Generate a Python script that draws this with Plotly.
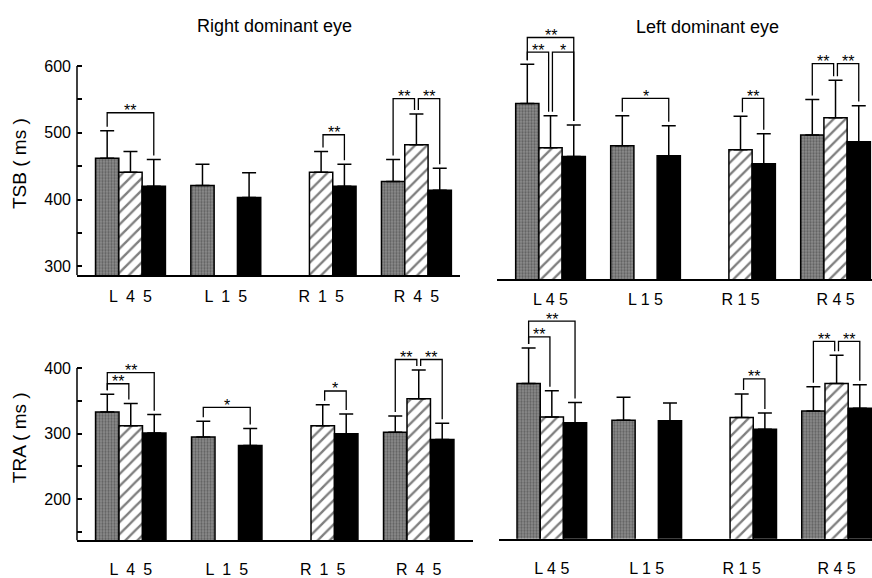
import plotly.graph_objects as go

categories = ["L 4 5", "L 1 5", "R 1 5", "R 4 5"]

# ---- TSB, right dominant eye ----
tsb_r_stip = [462, 421, None, 427]
tsb_r_stip_sd = [41, 32, None, 33]
tsb_r_hatch = [441, None, 441, 482]
tsb_r_hatch_sd = [31, None, 31, 46]
tsb_r_black = [420, 403, 420, 414]
tsb_r_black_sd = [40, 37, 33, 33]

# ---- TSB, left dominant eye ----
tsb_l_stip = [549, 486, None, 502]
tsb_l_stip_sd = [59, 45, None, 53]
tsb_l_hatch = [483, None, 480, 528]
tsb_l_hatch_sd = [48, None, 50, 56]
tsb_l_black = [470, 471, 459, 492]
tsb_l_black_sd = [47, 45, 45, 54]

# ---- TRA, right dominant eye ----
tra_r_stip = [333, 295, None, 302]
tra_r_stip_sd = [27, 24, None, 25]
tra_r_hatch = [312, None, 312, 353]
tra_r_hatch_sd = [34, None, 32, 44]
tra_r_black = [301, 282, 300, 291]
tra_r_black_sd = [28, 26, 30, 25]

# ---- TRA, left dominant eye ----
tra_l_stip = [374, 318, None, 332]
tra_l_stip_sd = [54, 35, None, 37]
tra_l_hatch = [323, None, 322, 374]
tra_l_hatch_sd = [40, None, 36, 43]
tra_l_black = [314, 317, 304, 336]
tra_l_black_sd = [31, 27, 25, 36]

# significance brackets: (category index, bar a, bar b, level, label)
sig_tsb_r = [(0, 0, 2, 530, "**"), (2, 1, 2, 497, "**"), (3, 0, 1, 551, "**"), (3, 1, 2, 551, "**")]
sig_tsb_l = [(0, 0, 2, 648, "**"), (0, 0, 1, 626, "**"), (0, 1, 2, 626, "*"), (1, 0, 2, 557, "*"),
             (2, 1, 2, 557, "**"), (3, 0, 1, 609, "**"), (3, 1, 2, 609, "**")]
sig_tra_r = [(0, 0, 2, 393, "**"), (0, 0, 1, 376, "**"), (1, 0, 2, 340, "*"), (2, 1, 2, 365, "*"),
             (3, 0, 1, 413, "**"), (3, 1, 2, 413, "**")]
sig_tra_l = [(0, 0, 2, 469, "**"), (0, 0, 1, 445, "**"), (2, 1, 2, 381, "**"),
             (3, 0, 1, 438, "**"), (3, 1, 2, 438, "**")]

FONT = "Liberation Sans, Arial, Helvetica, sans-serif"
BARGAP = 0.2665
BW = (1 - BARGAP) / 3.0

wide_labels = [c.replace(" ", "\u2002") for c in categories]

panels = [
    dict(ax="", stip=(tsb_r_stip, tsb_r_stip_sd), hatch=(tsb_r_hatch, tsb_r_hatch_sd),
         black=(tsb_r_black, tsb_r_black_sd), sig=sig_tsb_r, labels=wide_labels,
         xdom=[0.0883, 0.5275], xr=[-0.561, 3.457], ydom=[0.5190, 0.8974], yr=[286.5, 605],
         yaxis=True, major=[300, 400, 500, 600], minor=[350, 450, 550], ytop=600, standoff=6),
    dict(ax="2", stip=(tsb_l_stip, tsb_l_stip_sd), hatch=(tsb_l_hatch, tsb_l_hatch_sd),
         black=(tsb_l_black, tsb_l_black_sd), sig=sig_tsb_l, labels=categories,
         xdom=[0.5700, 1.0], xr=[-0.563, 3.384], ydom=[0.5126, 0.9683], yr=[286.5, 670],
         yaxis=False, standoff=5),
    dict(ax="3", stip=(tra_r_stip, tra_r_stip_sd), hatch=(tra_r_hatch, tra_r_hatch_sd),
         black=(tra_r_black, tra_r_black_sd), sig=sig_tra_r, labels=wide_labels,
         xdom=[0.0883, 0.5424], xr=[-0.56, 3.565], ydom=[0.0472, 0.3891], yr=[137.2, 430],
         yaxis=True, major=[200, 300, 400], minor=[150, 250, 350], ytop=400, standoff=14),
    dict(ax="4", stip=(tra_l_stip, tra_l_stip_sd), hatch=(tra_l_hatch, tra_l_hatch_sd),
         black=(tra_l_black, tra_l_black_sd), sig=sig_tra_l, labels=categories,
         xdom=[0.5722, 1.0], xr=[-0.557, 3.373], ydom=[0.0502, 0.4621], yr=[137.2, 490],
         yaxis=False, standoff=14),
]

fig = go.Figure()
shapes = []
annotations = []
layout = {}

x_idx = list(range(len(categories)))

for p in panels:
    xa = "x" + p["ax"]
    ya = "y" + p["ax"]
    styles = [
        ("stip", dict(color="#6e6e6e", pattern=dict(shape=".", fgcolor="#303030", bgcolor="#8e8e8e",
                                                     size=3, solidity=0.45))),
        ("hatch", dict(color="white", pattern=dict(shape="/", fgcolor="black", bgcolor="white",
                                                   size=8.5, solidity=0.28))),
        ("black", dict(color="black")),
    ]
    tops = []
    for key, mk in styles:
        vals, sd = p[key]
        mk = dict(mk)
        mk["line"] = dict(color="black", width=1.5)
        fig.add_trace(go.Bar(
            x=x_idx, y=vals, xaxis=xa, yaxis=ya, marker=mk, showlegend=False,
            error_y=dict(type="data", symmetric=False, array=sd,
                         arrayminus=[0 if v is not None else None for v in vals],
                         color="black", thickness=1.5, width=7),
        ))
        tops.append([None if v is None else v + s for v, s in zip(vals, sd)])

    for (c, a, b, lvl, lab) in p["sig"]:
        xa_pos = c + (a - 1) * BW
        xb_pos = c + (b - 1) * BW
        if a == 1:
            xa_pos += 0.02
        if b == 1:
            xb_pos -= 0.02
        ya_end = tops[a][c] + 6
        yb_end = tops[b][c] + 6
        shapes.append(dict(type="path", xref=xa, yref=ya,
                           path=f"M {xa_pos},{ya_end} L {xa_pos},{lvl} L {xb_pos},{lvl} L {xb_pos},{yb_end}",
                           line=dict(color="black", width=1.3)))
        annotations.append(dict(x=(xa_pos + xb_pos) / 2, y=lvl, xref=xa, yref=ya, text=lab,
                                showarrow=False, yanchor="middle", yshift=2,
                                font=dict(family=FONT, size=16, color="black")))

    key_x = "xaxis" + p["ax"]
    key_y = "yaxis" + p["ax"]
    layout[key_x] = dict(domain=p["xdom"], range=p["xr"], anchor=ya, showline=True,
                         linecolor="black", linewidth=1.5, showgrid=False, zeroline=False,
                         tickmode="array", tickvals=x_idx, ticktext=p["labels"], ticks="",
                         ticklabelstandoff=p["standoff"],
                         tickfont=dict(family=FONT, size=16, color="black"), fixedrange=True)
    if p["yaxis"]:
        layout[key_y] = dict(domain=p["ydom"], range=p["yr"], anchor=xa, showline=False,
                             showgrid=False, zeroline=False, tickmode="array", tickvals=p["major"],
                             ticks="inside", ticklen=5, tickwidth=1.5, tickcolor="black",
                             minor=dict(tickmode="array", tickvals=p["minor"], ticks="inside",
                                        ticklen=5, tickwidth=1.5, tickcolor="black"),
                             ticklabelstandoff=5,
                             tickfont=dict(family=FONT, size=16, color="black"), fixedrange=True)
        shapes.append(dict(type="line", xref=xa + " domain", yref=ya, x0=0, x1=0,
                           y0=p["yr"][0], y1=p["ytop"], line=dict(color="black", width=1.5)))
    else:
        layout[key_y] = dict(domain=p["ydom"], range=p["yr"], anchor=xa, visible=False,
                             showgrid=False, zeroline=False, fixedrange=True)

annotations += [
    dict(text="Right dominant eye", x=274 / 872, y=1 - 22 / 578, xref="paper", yref="paper",
         showarrow=False, xanchor="center", yanchor="middle",
         font=dict(family=FONT, size=18, color="black")),
    dict(text="Left dominant eye", x=707 / 872, y=1 - 23 / 578, xref="paper", yref="paper",
         showarrow=False, xanchor="center", yanchor="middle",
         font=dict(family=FONT, size=18, color="black")),
    dict(text="TSB ( ms )", x=19.5 / 872, y=1 - 163 / 578, xref="paper", yref="paper",
         showarrow=False, textangle=-90, xanchor="center", yanchor="middle",
         font=dict(family=FONT, size=19, color="black")),
    dict(text="TRA ( ms )", x=19.5 / 872, y=1 - 445 / 578, xref="paper", yref="paper",
         showarrow=False, textangle=-90, xanchor="center", yanchor="middle",
         font=dict(family=FONT, size=19, color="black")),
]

fig.update_layout(
    width=872, height=578, autosize=False,
    margin=dict(l=0, r=0, t=0, b=0),
    paper_bgcolor="white", plot_bgcolor="white",
    barmode="group", bargap=BARGAP, bargroupgap=0,
    shapes=shapes, annotations=annotations,
    **layout,
)

fig.write_html("out.html", config={"displayModeBar": False})
